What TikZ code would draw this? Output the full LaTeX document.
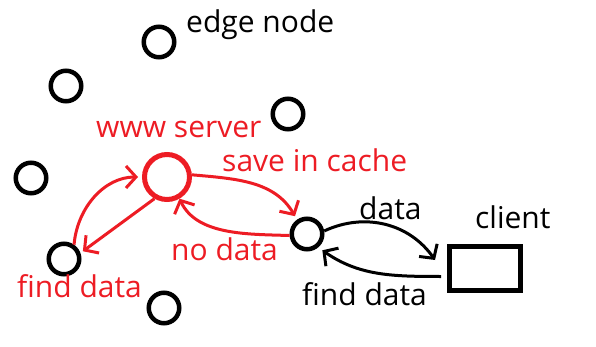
\documentclass[tikz,border=0pt]{standalone}
\usepackage{fontspec}
\setmainfont{Open Sans}
\usetikzlibrary{arrows.meta}
\definecolor{paintred}{RGB}{237,28,36}

\begin{document}
\begin{tikzpicture}[x=1pt, y=1pt,
  peer/.style={draw, circle, line width=4.5pt, minimum size=30.5pt, inner sep=0pt},
  txt/.style={inner sep=0pt, anchor=base west, font=\fontsize{30}{36}\selectfont},
  link/.style={line width=3pt, -{Straight Barb[length=10pt, width=22pt]}}]
  \useasboundingbox (0,0) rectangle (596,-347);

  \node[peer] (n1) at (159,-42) {};
  \node[peer] (n2) at (66,-86) {};
  \node[peer] (n3) at (288,-114) {};
  \node[peer] (n4) at (31,-178) {};
  \node[peer] (e) at (64,-259) {};
  \node[peer] (n6) at (164,-308) {};
  \node[peer] (g) at (307,-234) {};
  \node[draw, circle, paintred, line width=5pt, minimum size=45pt, inner sep=0pt] (srv) at (167,-177) {};
  \node[draw, line width=5pt, minimum width=71pt, minimum height=44pt, inner sep=0pt] (client) at (485,-268.5) {};

  \draw[link, paintred, shorten >=4pt] (e.55) to[out=85, in=180] (srv.180);
  \draw[link, paintred, shorten >=3pt] (srv.240) -- (e.20);
  \draw[link, paintred, shorten >=4pt] (srv.5) to[out=-5, in=120] (g.125);
  \draw[link, paintred] (g.185) to[out=178, in=-65, looseness=0.9] (srv.300);
  \draw[link] (g.10) to[out=25, in=125] ([shift={(-12,-16)}]client.north west);
  \draw[link, shorten >=5pt] ([shift={(-6,-8)}]client.west) to[out=180, in=-35] (g.-50);

  \node[txt] (tedge) at (186,-33) {edge node};
  \node[txt, paintred] (tsrv) at (96,-138) {www server};
  \node[txt, paintred] (tsave) at (222,-172) {save in cache};
  \node[txt, paintred] (tno) at (171,-260) {no data};
  \node[txt, paintred] (tfind) at (17,-297) {find data};
  \node[txt] (tdata) at (359,-219) {data};
  \node[txt] (tclient) at (475,-228) {client};
  \node[txt] (tfind2) at (302,-305) {find data};
\end{tikzpicture}
\end{document}
